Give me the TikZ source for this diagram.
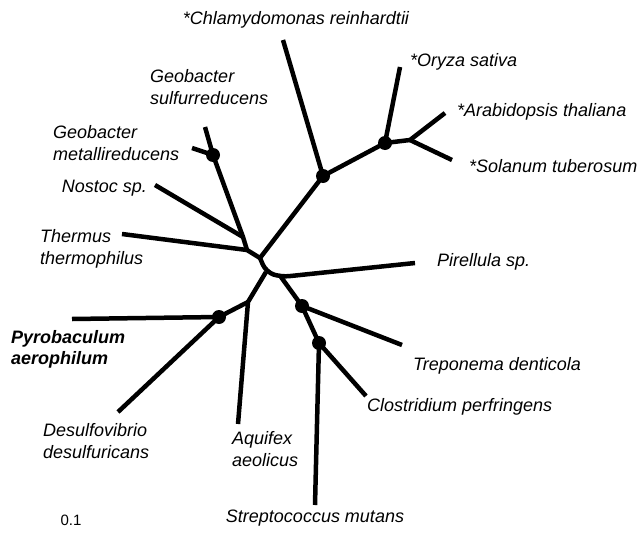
\documentclass[tikz,border=0pt]{standalone}
\usepackage{fontspec}
\setmainfont{Liberation Sans}
\usetikzlibrary{positioning}

\begin{document}
\begin{tikzpicture}[x=1pt, y=-1pt, node distance=8pt,
  every node/.style={font=\fontsize{18}{22}\selectfont\itshape, inner sep=1pt},
  branch/.style={line width=4.5pt, line join=round},
  dot/.style={circle, fill=black, minimum size=14pt, inner sep=0pt}]
\useasboundingbox (0,0) rectangle (642,543);
% inner junctions
\coordinate (root) at (260,258);
\coordinate (bend) at (266,272);
\coordinate (gRig) at (281,277);
\coordinate (gThe) at (247,250);
\coordinate (gNos) at (243,237);
\coordinate (gGeo) at (213,155);
\coordinate (gChl) at (323,176);
\coordinate (gPla) at (385,143);
\coordinate (gAra) at (410,140);
\coordinate (gTre) at (302,306);
\coordinate (gClo) at (319,343);
\coordinate (gLow) at (248,302);
\coordinate (gPyr) at (219,317);
% tips
\coordinate (tGsu) at (205,127);
\coordinate (tGme) at (192,148);
\coordinate (tNos) at (155,185);
\coordinate (tThe) at (122,234);
\coordinate (tChl) at (283,40);
\coordinate (tOry) at (400,67);
\coordinate (tAra) at (445,113);
\coordinate (tSol) at (452,160);
\coordinate (tPir) at (415,263);
\coordinate (tTre) at (402,345);
\coordinate (tClo) at (366,396);
\coordinate (tStr) at (315,505);
\coordinate (tAqu) at (238,424);
\coordinate (tPyr) at (72,319);
\coordinate (tDes) at (118,412);
% branches
\draw[branch] (tGsu) -- (gGeo) -- (gNos) -- (gThe) -- (root);
\draw[branch] (tGme) -- (gGeo);
\draw[branch] (tNos) -- (gNos);
\draw[branch] (tThe) -- (gThe);
\draw[branch] (root) -- (gChl) -- (gPla) -- (gAra) -- (tAra);
\draw[branch] (gChl) -- (tChl);
\draw[branch] (gPla) -- (tOry);
\draw[branch] (gAra) -- (tSol);
\draw[branch, rounded corners=8pt] (root) -- (bend) -- (gRig) -- (tPir);
\draw[branch] (gRig) -- (gTre) -- (gClo) -- (tStr);
\draw[branch] (gTre) -- (tTre);
\draw[branch] (gClo) -- (tClo);
\draw[branch] (bend) -- (gLow) -- (tAqu);
\draw[branch] (gLow) -- (gPyr) -- (tPyr);
\draw[branch] (gPyr) -- (tDes);
% supported nodes
\foreach \g in {gGeo,gChl,gPla,gTre,gClo,gPyr}
  \node[dot] at (\g) {};
% labels
\node (lChl) at (296,20) {*Chlamydomonas reinhardtii};
\node[anchor=west] (lOry) at (409,62) {*Oryza sativa};
\node[anchor=west] (lAra) at (456,112) {*Arabidopsis thaliana};
\node[anchor=west] (lSol) at (468,166) {*Solanum tuberosum};
\node[align=left, anchor=west] (lGsu) at (149,87) {Geobacter\\sulfurreducens};
\node[align=left, anchor=west] (lGme) at (52,143) {Geobacter\\metallireducens};
\node[anchor=east] (lNos) at (148,188) {Nostoc sp.};
\node[align=left, anchor=west] (lThe) at (39,249) {Thermus\\thermophilus};
\node[anchor=west] (lPir) at (436,262) {Pirellula sp.};
\node[anchor=west] (lTre) at (412,366) {Treponema denticola};
\node[anchor=west] (lClo) at (366,407) {Clostridium perfringens};
\node[below=of tStr, yshift=4pt] (lStr) {Streptococcus mutans};
\node[align=left, anchor=west] (lAqu) at (231,449) {Aquifex\\aeolicus};
\node[align=left, anchor=west] (lDes) at (42,441) {Desulfovibrio\\desulfuricans};
\node[align=left, anchor=west, font=\fontsize{18}{21}\selectfont\bfseries\itshape] (lPyr) at (10,349) {Pyrobaculum\\aerophilum};
\node[font=\fontsize{15}{18}\selectfont] (lScale) at (71,520) {0.1};
\end{tikzpicture}
\end{document}
